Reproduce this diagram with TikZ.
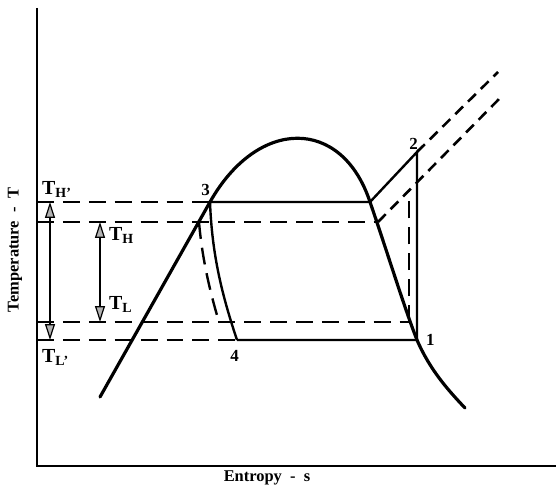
\documentclass[tikz,border=0pt]{standalone}
\usepackage{fontspec}
\setmainfont{Liberation Serif}
\usetikzlibrary{arrows.meta,positioning}
\tikzset{
  axis/.style  = {line width=3pt},
  dome/.style  = {line width=3.2pt, line cap=round},
  proc/.style  = {line width=2.4pt},
  dsh/.style   = {line width=2.4pt, dash pattern=on 17pt off 9pt},
  dshd/.style  = {line width=2.6pt, dash pattern=on 11pt off 7pt},
  ar/.style    = {{Triangle[length=16pt,width=10pt,fill=black!30,line width=1.2pt]}-{Triangle[length=16pt,width=10pt,fill=black!30,line width=1.2pt]},
                  line width=2.2pt},
  num/.style   = {font=\bfseries\fontsize{17}{17}\selectfont, inner sep=0pt},
  tlbl/.style  = {font=\bfseries\fontsize{20}{20}\selectfont, inner sep=0pt},
  axlbl/.style = {font=\bfseries\fontsize{16.5}{16.5}\selectfont, inner sep=0pt},
}
\begin{document}
\begin{tikzpicture}[x=1bp,y=-1bp]
  \useasboundingbox (0,0) rectangle (556,492);
  \coordinate (ytop) at (37,8);
  \coordinate (o) at (37,466);
  \coordinate (xend) at (556,466);
  \draw[axis] (ytop) -- (o) -- (xend);
  \node[axlbl, rotate=90] (tlab) at (15,250) {Temperature~~-~~T};
  \node[axlbl] (slab) at (267,478) {Entropy~~-~~s};
  % cycle
  \coordinate (p1) at (417,340);
  \coordinate (p2) at (417,152);
  \coordinate (p3) at (210,202);
  \coordinate (p4) at (237,340);
  \coordinate (sv) at (370,202);
  \coordinate (hr) at (378,222);
  \coordinate (lr) at (409,322);
  \coordinate (hl) at (199,222);
  \coordinate (ll) at (219,322);
  \coordinate (bv) at (409,190.5);
  \coordinate (ea) at (498,72);
  \coordinate (eb) at (502,96);
  \coordinate (hpa) at (37,202);
  \coordinate (ha) at (37,222);
  \coordinate (la) at (37,322);
  \coordinate (lpa) at (37,340);
  \coordinate (ot) at (50,202);
  \coordinate (ob) at (50,340);
  \coordinate (it) at (100,222);
  \coordinate (ib) at (100,322);
  \draw[dome] (100,397) -- (p3) .. controls (258,117) and (342,117) .. (sv)
        .. controls (385,245) and (405,310) .. (p1)
        .. controls (430,370) and (448,390) .. (465,408);
  \draw[proc] (p3) -- (sv) -- (p2) -- (p1) -- (p4);
  \draw[proc] (p3) .. controls (212,255) and (222,295) .. (p4);
  \draw[dsh] (hpa) -- (p3);
  \draw[dsh] (ha) -- (hr);
  \draw[dshd] (hr) -- (eb);
  \draw[dsh] (la) -- (lr);
  \draw[dsh] (lr) -- (bv);
  \draw[dsh] (lpa) -- (p4);
  \draw[dshd] (p2) -- (ea);
  \draw[dsh] (hl) .. controls (202,258) and (210,292) .. (ll);
  \draw[ar] (ot) -- (ob);
  \draw[ar] (it) -- (ib);
  \node[num, above left=6pt and 0pt of p3] (n3) {3};
  \node[num, above left=2pt and -1pt of p2] (n2) {2};
  \node[num, right=9pt of p1] (n1) {1};
  \node[num, below left=10pt and -2pt of p4] (n4) {4};
  \node[tlbl, below right=5pt and 9pt of it] (th) {T\textsubscript{H}};
  \node[tlbl, above right=9pt and 9pt of ib] (tl) {T\textsubscript{L}};
  \node[tlbl, above right=4pt and 5pt of hpa] (thp) {T\textsubscript{H'}};
  \node[tlbl, below right=9pt and 5pt of lpa] (tlp) {T\textsubscript{L'}};
\end{tikzpicture}
\end{document}
